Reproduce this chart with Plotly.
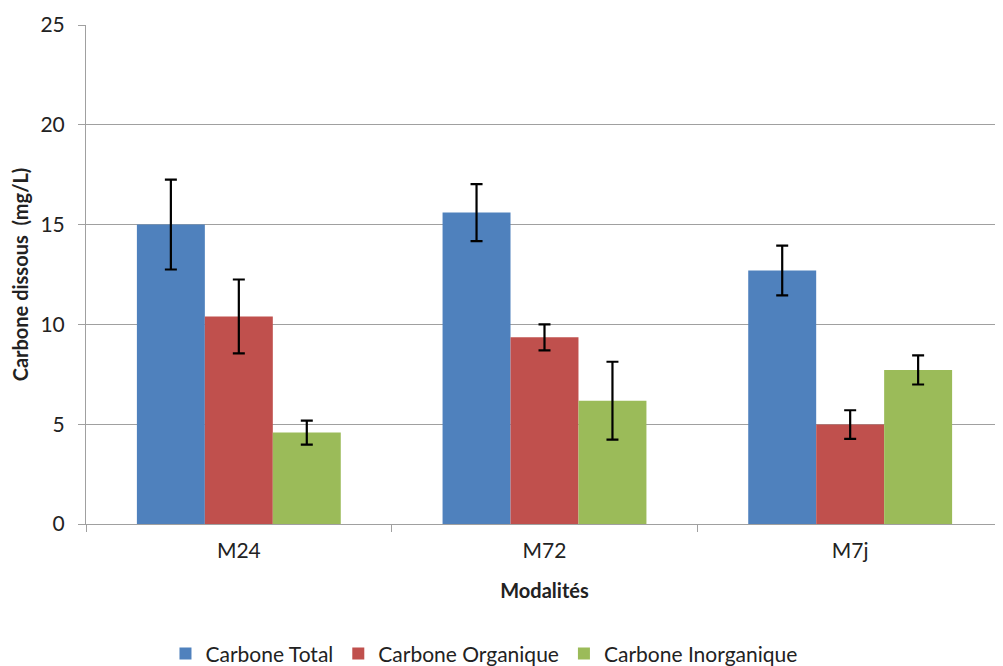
import plotly.graph_objects as go

categories = ["M24", "M72", "M7j"]

total = [15.0, 15.6, 12.7]
total_err = [2.25, 1.43, 1.25]
organique = [10.4, 9.35, 4.98]
organique_err = [1.85, 0.65, 0.72]
inorganique = [4.58, 6.18, 7.72]
inorganique_err = [0.6, 1.95, 0.73]

series = [
    ("Carbone Total", total, total_err, "#4F81BD"),
    ("Carbone Organique", organique, organique_err, "#C0504D"),
    ("Carbone Inorganique", inorganique, inorganique_err, "#9BBB59"),
]

font = "Lato, 'Open Sans', sans-serif"

fig = go.Figure()
for name, vals, errs, color in series:
    fig.add_trace(go.Bar(
        x=categories, y=vals, name=name,
        marker_color=color, marker_line_width=0,
        error_y=dict(type="data", array=errs, visible=True,
                     color="black", thickness=2.2, width=6),
    ))

# page has an 8px body margin, so the figure is shifted by 8px
fig.update_layout(
    width=995, height=658,
    margin=dict(l=78, r=0, t=17, b=142, autoexpand=False),
    plot_bgcolor="white", paper_bgcolor="white",
    barmode="group", bargap=0.333, bargroupgap=0,
    font=dict(family=font, size=21, color="#222"),
    showlegend=True,
    legend=dict(orientation="h", x=0.434, xanchor="center", xref="paper",
                y=-0.26, yanchor="middle", font=dict(size=21),
                itemwidth=30, traceorder="normal"),
)
fig.update_yaxes(
    range=[0, 25], dtick=5, showgrid=True, gridcolor="#A0A0A0", gridwidth=1,
    showline=True, linecolor="#A0A0A0", linewidth=1,
    ticks="outside", ticklen=7, tickcolor="#A0A0A0", automargin=False,
    tickfont=dict(size=21), zeroline=False, ticklabelstandoff=9,
    title=dict(text="<b>Carbone dissous  (mg/L)</b>", font=dict(size=20), standoff=15),
)
fig.update_xaxes(
    showgrid=False, showline=True, linecolor="#A0A0A0", linewidth=1,
    ticks="outside", ticklen=7, tickcolor="#A0A0A0", tickson="boundaries",
    tickfont=dict(size=21), automargin=False, ticklabelstandoff=8,
    title=dict(text="<b>Modalités</b>", font=dict(size=20), standoff=22),
)

fig.write_html("out.html")
